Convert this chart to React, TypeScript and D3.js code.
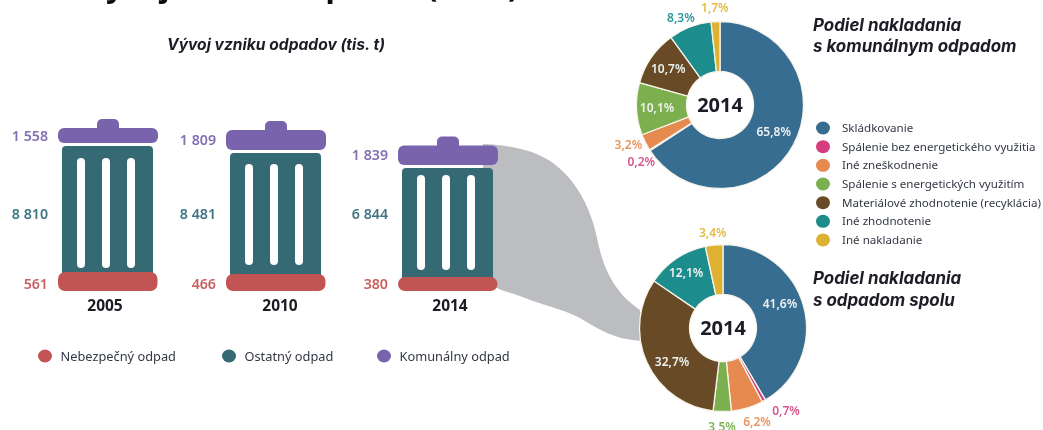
import React from "react";
import * as d3 from "d3";

const years = ["2005", "2010", "2014"];
const komunalny = [1558, 1809, 1839];
const ostatny = [8810, 8481, 6844];
const nebezpecny = [561, 466, 380];

const wasteLegend = ["Nebezpečný odpad", "Ostatný odpad", "Komunálny odpad"];
const treatments = [
  "Skládkovanie",
  "Spálenie bez energetického využitia",
  "Iné zneškodnenie",
  "Spálenie s energetických využitím",
  "Materiálové zhodnotenie (recyklácia)",
  "Iné zhodnotenie",
  "Iné nakladanie",
];
const sharesMunicipal = [65.8, 0.2, 3.2, 10.1, 10.7, 8.3, 1.7];
const sharesTotal = [41.6, 0.7, 6.2, 3.5, 32.7, 12.1, 3.4];

// label layout around each ring: radial distance and angular nudge (degrees)
const municipalLabelR = [60, 97, 100, 63, 63, 96, 97];
const municipalLabelTurn = [-2, -3, 3, 0, 0, -3, 0];
const totalLabelR = [62, 104, 100, 99, 61, 66, 96];
const totalLabelTurn = [-8, -8, -3, 0, -9, 0, 0];

const RED = "#c25552", TEAL = "#356b75", PURPLE = "#7a64ad";
const RED_T = "#c9605f", TEAL_T = "#3f7484", PURPLE_T = "#8270b3";
const ringColors = ["#376d92", "#d63c7e", "#e68a50", "#7bb04f", "#674c25", "#1f8d8c", "#deb130"];
const ringText = ["#eef3f7", "#d9558f", "#e8955f", "#7fb356", "#f3efe6", "#2c9a9a", "#e3bb45"];
const FONT = "'Noto Sans', 'Open Sans', sans-serif";
const HEAD = "Inter, Lato, sans-serif";

const BASE = 291;
const binLeft = d3.scaleOrdinal<string, number>().domain(years).range([58, 226, 398]);
const yearCenter = d3.scaleOrdinal<string, number>().domain(years).range([105, 280, 450]);
const redH = d3.scaleLinear().domain([380, 466, 561]).range([14, 17, 19]);
const bodyH = d3.scaleLinear().domain([6844, 8481, 8810]).range([109, 121, 126]);
const lidH = d3.scaleLinear().domain([1558, 1809, 1839]).range([15, 20, 19.5]);
const slotTop = [12, 11, 7];
const slotBottom = [4, 9, 7];
const slotX = [15, 40, 65];
const pieGen = d3.pie<number>().sort(null).value((d) => d);

function Ring({ cx, cy, values, radii, turns, title }: any) {
  const arc = d3.arc<d3.PieArcDatum<number>>().innerRadius(33.5).outerRadius(83.5);
  const arcs = pieGen(values);
  return (
    <g transform={`translate(${cx},${cy})`}>
      {arcs.map((a, i) => (
        <path key={i} d={arc(a) as string} fill={ringColors[i]} stroke="#f7f4ea" strokeWidth={1.3} />
      ))}
      {arcs.map((a, i) => {
        const ang = (a.startAngle + a.endAngle) / 2 + (turns[i] * Math.PI) / 180;
        const inside = radii[i] < 80;
        return (
          <text key={i} x={Math.sin(ang) * radii[i]} y={-Math.cos(ang) * radii[i]} dy="0.35em" textAnchor="middle"
            fontFamily={FONT} fontSize={12} fontWeight={600} fill={inside ? "#eef2f2" : ringText[i]}>
            {d3.format(".1f")(a.data).replace(".", ",")}%
          </text>
        );
      })}
      <text textAnchor="middle" dy="0.36em" fontFamily={FONT} fontSize={20} fontWeight={700} fill="#1a1a26">{title}</text>
    </g>
  );
}

export default function App() {
  return (
    <svg width={1043} height={430} viewBox="0 0 1043 430" style={{ position: "absolute", left: 0, top: 0, background: "#fff" }}>
      <defs>
        <filter id="soft" x="-2%" y="-2%" width="104%" height="104%">
          <feGaussianBlur stdDeviation="0.55" />
        </filter>
      </defs>
      <g filter="url(#soft)">
        <text x={86} y={-3} fontFamily={FONT} fontSize={30.8} fontWeight={700} fill="#111">Vývoj vzniku odpadov (2014)</text>
        <text x={276} y={44} dy="0.36em" textAnchor="middle" fontFamily={HEAD} fontSize={15.6} fontWeight={700} fontStyle="italic" fill="#1d1d26">Vývoj vzniku odpadov (tis. t)</text>

        <path d="M483,144 C510,145 535,150 553,163 C575,179 590,205 597,238 C605,278 620,296 640,310 L645,341 C615,340 600,330 580,318 C560,308 545,306 525,298 C510,292 505,292 497,288 L483,288 Z" fill="#bcbdc0" />

        {years.map((y, i) => {
          const x = binLeft(y);
          const rh = redH(nebezpecny[i]);
          const bh = bodyH(ostatny[i]);
          const lh = lidH(komunalny[i]);
          const redTop = BASE - rh;
          const bodyTop = redTop - bh;
          const lidBottom = bodyTop - 3;
          const lidTop = lidBottom - lh;
          const numX = x - 10;
          return (
            <g key={y}>
              <rect x={x + 39} y={lidTop - 9} width={22} height={14} rx={5} fill={PURPLE} />
              <rect x={x} y={lidTop} width={100} height={lh} rx={6} fill={PURPLE} />
              <rect x={x + 4} y={bodyTop} width={91} height={bh + 4} rx={4} fill={TEAL} />
              {slotX.map((sx) => (
                <rect key={sx} x={x + 4 + sx} y={bodyTop + slotTop[i]} width={8} height={bh - slotTop[i] - slotBottom[i]} rx={4} fill="#fff" />
              ))}
              <rect x={x} y={redTop} width={99.5} height={rh} rx={7} fill={RED} />
              <text x={numX} y={(lidTop + lidBottom) / 2} dy="0.36em" textAnchor="end" fontFamily={FONT} fontSize={14.2} fontWeight={600} fill={PURPLE_T}>{d3.format(",")(komunalny[i]).replace(",", " ")}</text>
              <text x={numX} y={214} dy="0.36em" textAnchor="end" fontFamily={FONT} fontSize={14.2} fontWeight={600} fill={TEAL_T}>{d3.format(",")(ostatny[i]).replace(",", " ")}</text>
              <text x={numX} y={284} dy="0.36em" textAnchor="end" fontFamily={FONT} fontSize={14.2} fontWeight={600} fill={RED_T}>{nebezpecny[i]}</text>
              <text x={yearCenter(y)} y={305} dy="0.36em" textAnchor="middle" fontFamily={FONT} fontSize={15.5} fontWeight={700} fill="#1a1a22">{y}</text>
            </g>
          );
        })}

        {wasteLegend.map((t, i) => {
          const cx = [45, 229, 384][i];
          return (
            <g key={t}>
              <ellipse cx={cx} cy={356} rx={7} ry={6.5} fill={[RED, TEAL, PURPLE][i]} />
              <text x={cx + 15.5} y={356} dy="0.36em" fontFamily={FONT} fontSize={12.8} fill="#333845">{t}</text>
            </g>
          );
        })}

        <Ring cx={720} cy={105} values={sharesMunicipal} radii={municipalLabelR} turns={municipalLabelTurn} title="2014" />
        <Ring cx={723} cy={328} values={sharesTotal} radii={totalLabelR} turns={totalLabelTurn} title="2014" />

        {["Podiel nakladania", "s komunálnym odpadom"].map((t, i) => (
          <text key={t} x={813} y={25 + i * 21} dy="0.36em" fontFamily={HEAD} fontSize={16.9} fontWeight={700} fontStyle="italic" fill="#1d1d26">{t}</text>
        ))}
        {["Podiel nakladania", "s odpadom spolu"].map((t, i) => (
          <text key={t} x={813} y={278 + i * 22} dy="0.36em" fontFamily={HEAD} fontSize={16.9} fontWeight={700} fontStyle="italic" fill="#1d1d26">{t}</text>
        ))}

        {treatments.map((t, i) => {
          const y = 128 + i * 18.66;
          return (
            <g key={t}>
              <ellipse cx={823} cy={y} rx={7} ry={6.5} fill={ringColors[i]} />
              <text x={842} y={y} dy="0.36em" fontFamily={FONT} fontSize={11.6} fill="#333845">{t}</text>
            </g>
          );
        })}
      </g>
    </svg>
  );
}
